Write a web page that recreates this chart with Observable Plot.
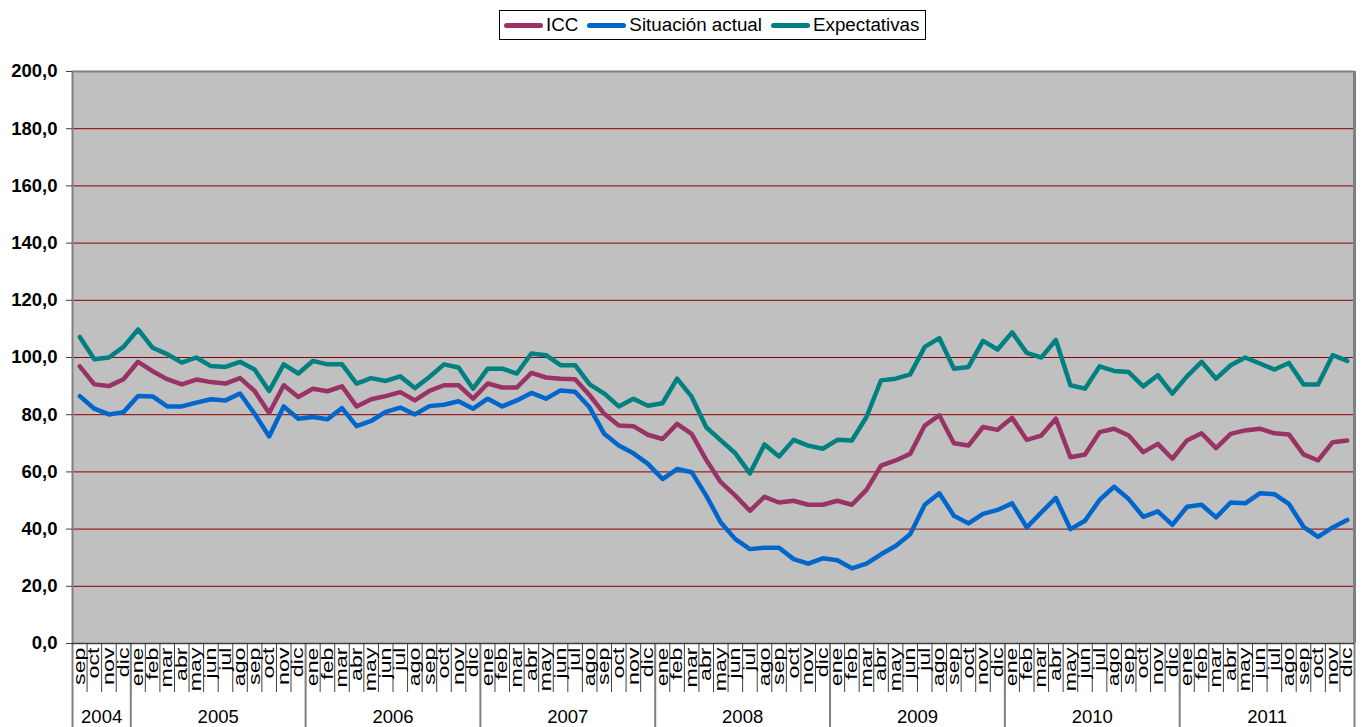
<!DOCTYPE html>
<html><head><meta charset="utf-8">
<script src="https://cdn.jsdelivr.net/npm/d3@7"></script>
<script src="https://cdn.jsdelivr.net/npm/@observablehq/plot@0.6"></script>
<style>
body{margin:0;background:#fff;font-family:Arial,"Liberation Sans",sans-serif;}
#legend{position:relative;height:50px;}
#legend .box{position:absolute;left:499px;top:10px;width:425px;height:28px;border:1px solid #000;display:flex;align-items:center;font-size:18.8px;color:#000;}
.item{display:flex;align-items:center;margin-left:9px;}
.item:first-child{margin-left:4px;}
.sw{display:inline-block;width:39px;height:5px;border-radius:3px;margin-right:3px;}
#chart svg{display:block;}
</style></head><body>
<div id="legend"><div class="box"></div></div>
<div id="chart"></div>
<script>
const monthNames = ["ene","feb","mar","abr","may","jun","jul","ago","sep","oct","nov","dic"];
const years = [2004,2005,2006,2007,2008,2009,2010,2011];
const firstMonth = 8; // sep 2004
const series = ["ICC","Situación actual","Expectativas"];
const colors = ["#993366","#0066CC","#008080"];

const icc = [
  96.9, 90.6, 90.0, 92.4,
  98.5, 95.2, 92.4, 90.6, 92.3, 91.4, 90.9, 92.8, 88.3, 80.6, 90.3, 86.2,
  89.1, 88.2, 89.9, 82.9, 85.4, 86.5, 87.9, 85.0, 88.3, 90.3, 90.3, 85.6,
  90.9, 89.5, 89.5, 94.6, 93.0, 92.6, 92.4, 86.8, 80.3, 76.2, 76.0, 73.0,
  71.5, 76.8, 73.3, 64.2, 56.4, 51.7, 46.4, 51.3, 49.3, 49.9, 48.5, 48.5,
  49.9, 48.5, 53.7, 62.2, 64.0, 66.3, 76.2, 79.8, 70.0, 69.2, 75.7, 74.7,
  78.9, 71.2, 72.7, 78.6, 65.1, 66.1, 73.9, 75.1, 72.7, 66.9, 69.8, 64.6,
  71.0, 73.5, 68.3, 73.3, 74.5, 75.1, 73.5, 73.1, 66.1, 64.0, 70.4, 71.0
];
const situacion = [
  86.5, 82.1, 80.1, 80.9,
  86.5, 86.4, 82.9, 82.9, 84.2, 85.4, 85.0, 87.4, 80.3, 72.4, 82.9, 78.6,
  79.2, 78.4, 82.3, 76.0, 77.8, 81.0, 82.5, 80.1, 83.0, 83.5, 84.7, 82.1,
  85.6, 82.9, 85.0, 87.6, 85.6, 88.5, 88.0, 82.5, 73.3, 69.2, 66.5, 62.8,
  57.5, 61.0, 59.9, 51.7, 42.3, 36.5, 33.0, 33.5, 33.5, 29.5, 27.9, 29.8,
  29.1, 26.3, 27.9, 31.2, 34.1, 38.2, 48.5, 52.5, 44.7, 42.0, 45.3, 46.7,
  49.0, 40.6, 45.8, 50.9, 40.0, 42.9, 50.2, 54.8, 50.5, 44.3, 46.2, 41.5,
  47.8, 48.5, 44.1, 49.3, 49.0, 52.5, 52.2, 48.8, 40.8, 37.3, 40.6, 43.2
];
const expectativas = [
  107.2, 99.4, 100.0, 103.7,
  109.8, 103.4, 101.2, 98.2, 100.0, 97.0, 96.7, 98.5, 95.8, 88.3, 97.6, 94.4,
  98.8, 97.6, 97.6, 90.9, 92.8, 91.8, 93.4, 89.3, 93.2, 97.6, 96.5, 89.1,
  96.1, 96.1, 94.4, 101.4, 100.8, 97.3, 97.3, 90.6, 87.4, 82.9, 85.6, 83.1,
  84.0, 92.6, 86.3, 75.6, 71.0, 66.5, 59.5, 69.6, 65.4, 71.2, 69.2, 68.1,
  71.2, 71.0, 79.2, 92.0, 92.6, 94.1, 103.7, 106.8, 96.1, 96.7, 105.8, 102.8,
  108.8, 101.6, 100.0, 106.1, 90.3, 89.1, 96.9, 95.3, 94.9, 89.9, 93.8, 87.4,
  93.4, 98.5, 92.6, 97.3, 100.0, 97.9, 95.8, 98.1, 90.6, 90.6, 100.8, 98.8
];
const yTicks = [0,20,40,60,80,100,120,140,160,180,200];

// periods
const periods = [];
years.forEach((y, yi) => {
  for (let m = (yi === 0 ? firstMonth : 0); m < 12; m++) periods.push({year: y, label: monthNames[m]});
});
const n = periods.length;
const idx = d3.range(n);
const monthBounds = d3.range(n + 1).map(i => i - 0.5);
const yearStarts = years.map(y => periods.findIndex(p => p.year === y));
const yearBounds = [...yearStarts.map(s => s - 0.5), n - 0.5];
const yearCenters = years.map(y => d3.mean(idx.filter(i => periods[i].year === y)));
const yearByCenter = new Map(yearCenters.map((c, k) => [c, years[k]]));

const values = [icc, situacion, expectativas];
const table = [];
series.forEach((s, k) => values[k].forEach((v, i) => table.push({i, value: v, series: s})));

// legend
const box = document.querySelector("#legend .box");
series.forEach((s, k) => {
  const it = document.createElement("div");
  it.className = "item";
  it.innerHTML = `<span class="sw" style="background:${colors[k]}"></span><span>${s}</span>`;
  box.appendChild(it);
});

const chart = Plot.plot({
  width: 1364,
  height: 677,
  marginTop: 21,
  marginBottom: 84,
  marginLeft: 72,
  marginRight: 10,
  style: {fontFamily: "Arial, 'Liberation Sans', sans-serif", background: "white", color: "black", overflow: "visible"},
  x: {domain: [-0.5, n - 0.5], axis: null},
  y: {domain: [0, 200], axis: null},
  color: {domain: series, range: colors},
  marks: [
    Plot.frame({fill: "#C0C0C0"}),
    Plot.ruleY(yTicks.filter(d => d > 0 && d < 200), {stroke: "#8B0000", strokeWidth: 1}),
    Plot.ruleY([200], {stroke: "#808080", strokeWidth: 2}),
    Plot.ruleX([n - 0.5], {stroke: "#808080", strokeWidth: 3}),
    Plot.axisX(monthBounds, {tickSize: 49, tickFormat: () => "", stroke: "#404040", strokeWidth: 1, label: null}),
    Plot.axisX(yearBounds, {tickSize: 84, tickFormat: () => "", stroke: "#808080", strokeWidth: 2, label: null}),
    Plot.axisX(idx, {tickSize: 0, tickPadding: 4, tickRotate: -90, textAnchor: "end", lineAnchor: "middle", tickFormat: i => periods[i].label, fontSize: 16, fill: "black", label: null}),
    Plot.axisX(yearCenters, {tickSize: 0, tickPadding: 66, tickFormat: d => String(yearByCenter.get(d)), fontSize: 18.5, fill: "black", label: null}),
    Plot.ruleX([-0.5], {stroke: "#808080", strokeWidth: 2}),
    Plot.ruleY([0], {stroke: "#404040", strokeWidth: 1.5}),
    Plot.axisY(yTicks, {tickSize: 6, tickPadding: 9, fontWeight: "bold", fontSize: 18.5, fill: "black", stroke: "#404040", tickFormat: d => d.toFixed(1).replace(".", ","), label: null}),
    Plot.line(table, {x: "i", y: "value", z: "series", stroke: "series", strokeWidth: 4.5})
  ]
});
document.getElementById("chart").appendChild(chart);
// stretch rotated month labels along their reading direction
d3.select(chart).selectAll("text").each(function() {
  const t = this.getAttribute("transform");
  if (t && t.includes("rotate(-90")) this.setAttribute("transform", t + " scale(1.45,1)");
});
</script>
</body></html>
